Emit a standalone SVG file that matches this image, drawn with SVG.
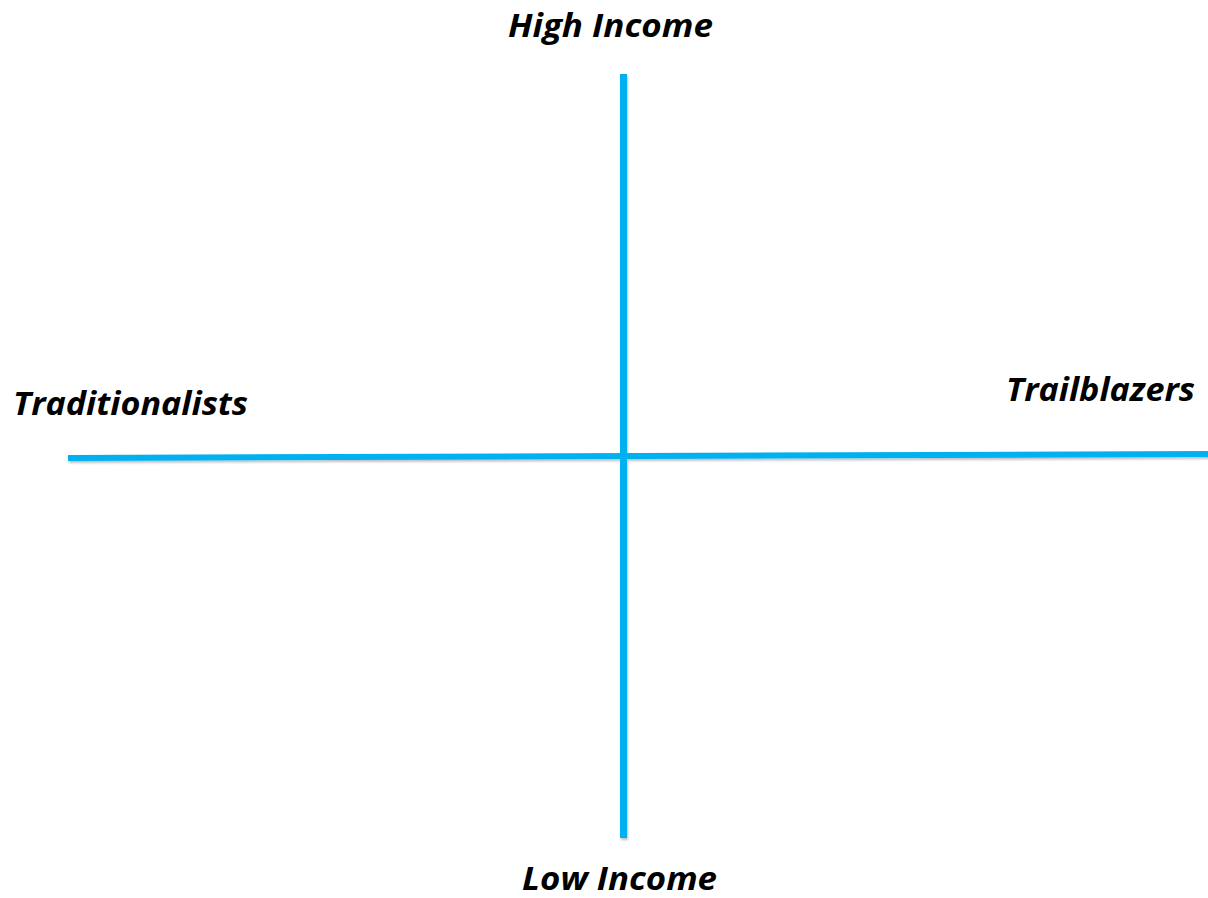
<svg xmlns="http://www.w3.org/2000/svg" width="1208" height="898" viewBox="0 0 1208 898">
<style>
.lbl{font-family:"Open Sans","Liberation Sans",sans-serif;font-weight:bold;font-style:italic;font-size:32.5px;fill:#000}
.axis{stroke:#00B0F0;fill:none}
</style>
<defs>
<filter id="sh" x="-5%" y="-5%" width="110%" height="110%">
<feDropShadow dx="1" dy="2" stdDeviation="1.2" flood-color="#000" flood-opacity="0.25"/>
</filter>
</defs>
<rect width="1208" height="898" fill="#fff"/>
<g id="connectors" filter="url(#sh)">
<line class="axis" x1="623.5" y1="74" x2="623.5" y2="838" stroke-width="7"/>
<line class="axis" x1="68" y1="458" x2="1208" y2="454" stroke-width="6"/>
</g>
<g id="high-income"><text class="lbl" x="508" y="37" textLength="205" lengthAdjust="spacingAndGlyphs">High Income</text></g>
<g id="low-income"><text class="lbl" x="522" y="890" textLength="195" lengthAdjust="spacingAndGlyphs">Low Income</text></g>
<g id="traditionalists"><text class="lbl" x="13" y="415" textLength="235" lengthAdjust="spacingAndGlyphs">Traditionalists</text></g>
<g id="trailblazers"><text class="lbl" x="1006" y="401" textLength="189" lengthAdjust="spacingAndGlyphs">Trailblazers</text></g>
</svg>
